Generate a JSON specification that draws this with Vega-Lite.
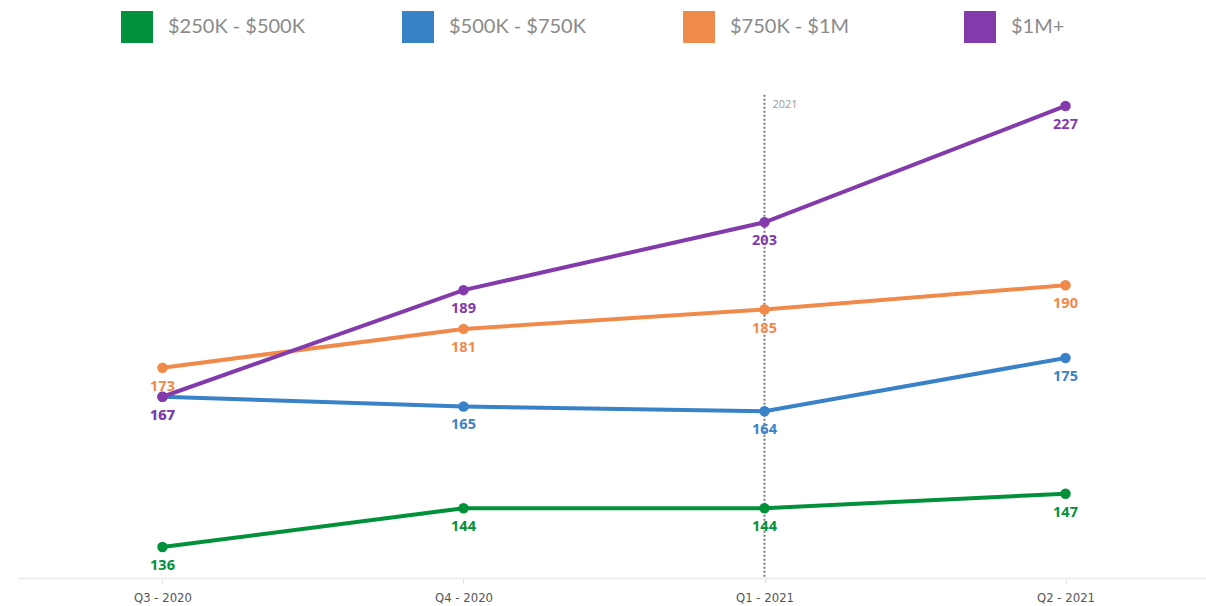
{
  "$schema": "https://vega.github.io/schema/vega-lite/v6.json",
  "width": 1192,
  "height": 520,
  "autosize": "none",
  "padding": {"left": 18, "top": 58, "right": 0, "bottom": 28},
  "background": "white",
  "config": {"view": {"stroke": null}},
  "data": {
    "values": [
      {"quarter": "Q3 - 2020", "band": "$250K - $500K", "value": 136},
      {"quarter": "Q4 - 2020", "band": "$250K - $500K", "value": 144},
      {"quarter": "Q1 - 2021", "band": "$250K - $500K", "value": 144},
      {"quarter": "Q2 - 2021", "band": "$250K - $500K", "value": 147},
      {"quarter": "Q3 - 2020", "band": "$500K - $750K", "value": 167},
      {"quarter": "Q4 - 2020", "band": "$500K - $750K", "value": 165},
      {"quarter": "Q1 - 2021", "band": "$500K - $750K", "value": 164},
      {"quarter": "Q2 - 2021", "band": "$500K - $750K", "value": 175},
      {"quarter": "Q3 - 2020", "band": "$750K - $1M", "value": 173},
      {"quarter": "Q4 - 2020", "band": "$750K - $1M", "value": 181},
      {"quarter": "Q1 - 2021", "band": "$750K - $1M", "value": 185},
      {"quarter": "Q2 - 2021", "band": "$750K - $1M", "value": 190},
      {"quarter": "Q3 - 2020", "band": "$1M+", "value": 167},
      {"quarter": "Q4 - 2020", "band": "$1M+", "value": 189},
      {"quarter": "Q1 - 2021", "band": "$1M+", "value": 203},
      {"quarter": "Q2 - 2021", "band": "$1M+", "value": 227}
    ]
  },
  "encoding": {
    "x": {
      "field": "quarter",
      "type": "ordinal",
      "scale": {"type": "point", "padding": 0.48, "domain": ["Q3 - 2020", "Q4 - 2020", "Q1 - 2021", "Q2 - 2021"]},
      "axis": {
        "title": null,
        "labelAngle": 0,
        "labelFont": "DejaVu Sans Condensed",
        "labelFontSize": 13,
        "labelColor": "#555555",
        "labelPadding": 8,
        "domainColor": "#eeeeee",
        "domainWidth": 2,
        "tickColor": "#dddddd",
        "tickSize": 5,
        "grid": false
      }
    },
    "y": {
      "field": "value",
      "type": "quantitative",
      "scale": {"domain": [129.6, 236.9], "nice": false, "zero": false},
      "axis": null
    }
  },
  "layer": [
    {
      "transform": [{"filter": "datum.band === '$1M+' && datum.quarter === 'Q1 - 2021'"}],
      "mark": {"type": "rule", "strokeDash": [2, 2], "color": "#777777", "strokeWidth": 2},
      "encoding": {
        "y": {"datum": 229.3},
        "y2": {"datum": 129.6}
      }
    },
    {
      "transform": [{"filter": "datum.band === '$1M+' && datum.quarter === 'Q1 - 2021'"}],
      "mark": {"type": "text", "align": "left", "baseline": "middle", "dx": 8, "font": "Open Sans", "fontSize": 11, "color": "#999999", "text": "2021"},
      "encoding": {
        "y": {"datum": 227.1}
      }
    },
    {
      "mark": {"type": "line", "strokeWidth": 4, "point": {"filled": true, "size": 110, "opacity": 1}},
      "encoding": {
        "color": {
          "field": "band",
          "type": "nominal",
          "scale": {
            "domain": ["$250K - $500K", "$500K - $750K", "$750K - $1M", "$1M+"],
            "range": ["#00913a", "#3a82c8", "#f08a4b", "#833aaa"]
          },
          "legend": {
            "title": null,
            "orient": "none",
            "legendX": 103,
            "legendY": -47,
            "direction": "horizontal",
            "columns": 4,
            "gridAlign": "all",
            "columnPadding": 97,
            "symbolType": "square",
            "symbolSize": 1024,
            "symbolStrokeWidth": 0,
            "symbolOpacity": 1,
            "labelFont": "Lato",
            "labelFontSize": 20,
            "labelColor": "#8a8a8a",
            "labelOffset": 15,
            "labelLimit": 300
          }
        }
      }
    },
    {
      "mark": {"type": "text", "dy": 19, "font": "Open Sans", "fontWeight": "bold", "fontSize": 14.5, "baseline": "middle"},
      "encoding": {
        "color": {"field": "band", "type": "nominal"},
        "text": {"field": "value", "type": "quantitative"}
      }
    }
  ]
}
